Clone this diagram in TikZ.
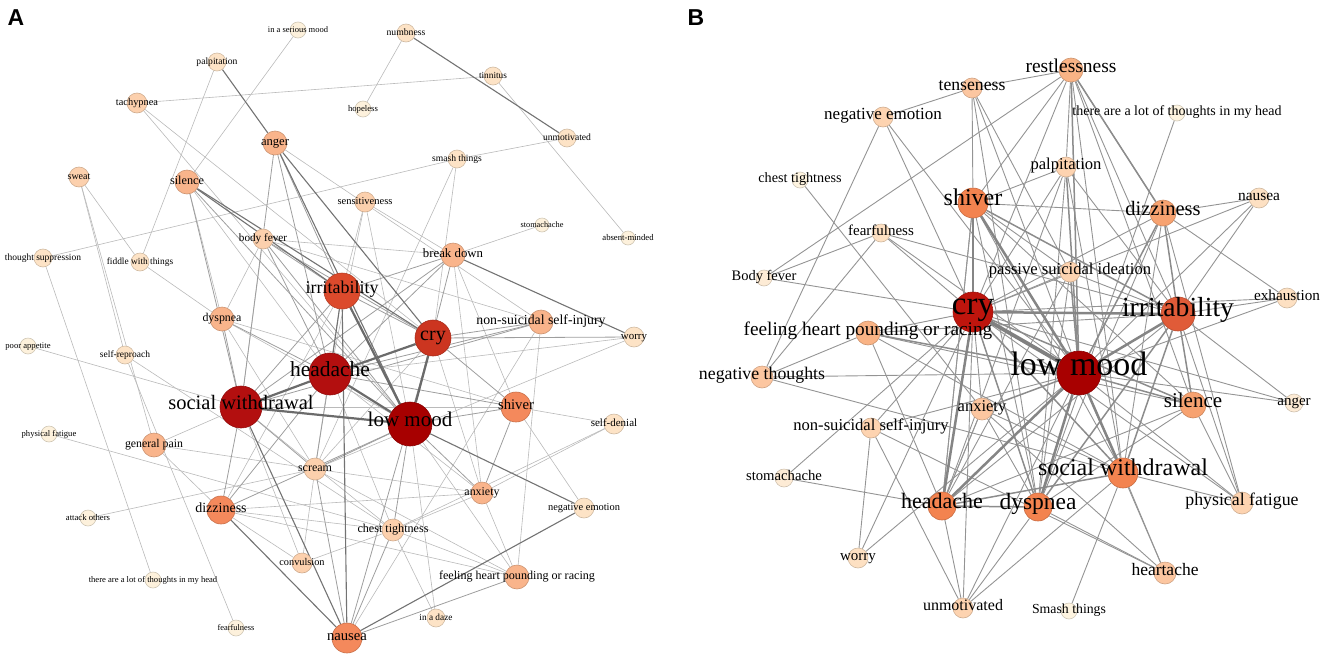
\documentclass[tikz,border=0pt]{standalone}
\usepackage{fontspec}
\setmainfont{Liberation Serif}
\newfontfamily\panelfont{Liberation Sans}
\pgfdeclarelayer{bg}
\pgfdeclarelayer{fg}
\pgfsetlayers{bg,main,fg}
\definecolor{cA1}{HTML}{FDF1DC}
\definecolor{cA2}{HTML}{FDE3C6}
\definecolor{cA3}{HTML}{FCD0AD}
\definecolor{cA4}{HTML}{F9B48B}
\definecolor{cA5}{HTML}{F4895C}
\definecolor{cA6}{HTML}{DC4A2C}
\definecolor{cA7}{HTML}{CC3520}
\definecolor{cA8}{HTML}{B30F0F}
\definecolor{cA9}{HTML}{A70000}
\definecolor{cB1}{HTML}{FEF4E0}
\definecolor{cB2}{HTML}{FDEBD5}
\definecolor{cB3}{HTML}{FDE0C2}
\definecolor{cB4}{HTML}{FDD3B0}
\definecolor{cB5}{HTML}{FCC6A0}
\definecolor{cB6}{HTML}{F9B385}
\definecolor{cB7}{HTML}{F7A270}
\definecolor{cB8}{HTML}{F3834F}
\definecolor{cB9}{HTML}{E05B38}
\definecolor{cB10}{HTML}{BE150D}
\definecolor{cB11}{HTML}{A80000}
\tikzset{
  nc/.style={circle, inner sep=0pt, line width=0.6pt},
  lbl/.style={inner sep=0pt, text height=0.68em, text depth=0.18em},
  ea/.style={line width=0.6pt, draw=black!27},
  eb/.style={line width=0.8pt, draw=black!38},
  ec/.style={line width=1.1pt, draw=black!55},
  ed/.style={line width=2.2pt, draw=black!58},
  ba/.style={line width=0.9pt, draw=black!42},
  bb/.style={line width=1.5pt, draw=black!45},
  bc/.style={line width=2.5pt, draw=black!48},
  bd/.style={line width=3.8pt, draw=black!50},
}
\newcommand{\nd}[7]{%
  \node[nc, fill=#5, draw=#5!82!black, minimum size=2*#4pt] (#1) at (#2,#3) {};
  \begin{pgfonlayer}{fg}\node[lbl, font=\fontsize{#6}{#6}\selectfont] (#1t) at (#2,#3) {#7};\end{pgfonlayer}}
\begin{document}
\begin{tikzpicture}[x=1pt,y=-1pt]
\useasboundingbox (0,0) rectangle (1325,659);
\node[font=\panelfont\fontsize{23}{23}\selectfont\bfseries] (LA) at (16,18) {A};
\node[font=\panelfont\fontsize{23}{23}\selectfont\bfseries] (LB) at (696,18) {B};
% ---------------- Panel A nodes
\nd{aSer}{298}{30}{8}{cA1}{8.5}{in a serious mood}
\nd{aNum}{406}{33}{9}{cA2}{9.7}{numbness}
\nd{aPal}{217}{62}{9}{cA2}{9.6}{palpitation}
\nd{aTin}{493}{76}{9}{cA2}{9.3}{tinnitus}
\nd{aHop}{363}{109}{8}{cA1}{8.7}{hopeless}
\nd{aTac}{137}{103}{10}{cA3}{10.4}{tachypnea}
\nd{aUnm}{567}{138}{9}{cA2}{9.6}{unmotivated}
\nd{aSma}{457}{159}{9}{cA2}{9.6}{smash things}
\nd{aAng}{275}{143}{12}{cA4}{12.6}{anger}
\nd{aSwe}{79}{177}{10}{cA3}{10}{sweat}
\nd{aSil}{187}{182}{12}{cA4}{12.2}{silence}
\nd{aSen}{365}{202}{10}{cA3}{10.5}{sensitiveness}
\nd{aSto}{542}{225}{7}{cA1}{8.3}{stomachache}
\nd{aAbs}{628}{238}{7}{cA1}{8.7}{absent-minded}
\nd{aBre}{453}{255}{12}{cA4}{12.8}{break down}
\nd{aTho}{43}{258}{9}{cA2}{9.5}{thought suppression}
\nd{aFid}{140}{262}{9}{cA2}{9.4}{fiddle with things}
\nd{aBod}{263}{239}{10}{cA3}{11.2}{body fever}
\nd{aIrr}{342}{291}{18}{cA6}{18}{irritability}
\nd{aDys}{222}{319}{12}{cA4}{11.9}{dyspnea}
\nd{aNon}{541}{322}{12}{cA4}{13.8}{non-suicidal self-injury}
\nd{aCry}{433}{338}{18}{cA7}{20}{cry}
\nd{aWor}{634}{337}{10}{cA2}{10.9}{worry}
\nd{aPoo}{28}{346}{8}{cA1}{8.6}{poor appetite}
\nd{aSel}{125}{355}{9}{cA2}{9.5}{self-reproach}
\nd{aHea}{330}{374}{21}{cA8}{21.5}{headache}
\nd{aSoc}{241}{407}{21}{cA8}{20.5}{social withdrawal}
\nd{aLow}{410}{424}{22}{cA9}{21}{low mood}
\nd{aShi}{516}{407}{15}{cA5}{14.7}{shiver}
\nd{aPhy}{49}{434}{8}{cA1}{8.6}{physical fatigue}
\nd{aGen}{154}{445}{12}{cA4}{11.8}{general pain}
\nd{aDen}{614}{424}{10}{cA2}{11}{self-denial}
\nd{aScr}{315}{469}{11}{cA3}{12}{scream}
\nd{aAnx}{482}{493}{11}{cA4}{11.9}{anxiety}
\nd{aDiz}{221}{510}{14}{cA5}{14}{dizziness}
\nd{aNeg}{584}{508}{10}{cA2}{10.4}{negative emotion}
\nd{aChe}{393}{530}{11}{cA3}{12.1}{chest tightness}
\nd{aAtt}{88}{518}{8}{cA1}{8.7}{attack others}
\nd{aCon}{302}{563}{10}{cA3}{10.3}{convulsion}
\nd{aFee}{517}{577}{12}{cA4}{12.1}{feeling heart pounding or racing}
\nd{aThi}{153}{580}{8}{cA1}{8.6}{there are a lot of thoughts in my head}
\nd{aDaz}{436}{618}{9}{cA2}{9.3}{in a daze}
\nd{aFea}{236}{628}{8}{cA1}{8.4}{fearfulness}
\nd{aNau}{347}{638}{15}{cA5}{14.7}{nausea}
% ---------------- Panel B nodes
\nd{bTen}{972}{88}{10}{cB5}{17.7}{tenseness}
\nd{bRes}{1071}{70}{12}{cB6}{19.5}{restlessness}
\nd{bNeg}{883}{117}{10}{cB4}{17}{negative emotion}
\nd{bThi}{1177}{113}{8}{cB1}{14}{there are a lot of thoughts in my head}
\nd{bChe}{800}{180}{8}{cB1}{14.2}{chest tightness}
\nd{bPal}{1066}{167}{10}{cB4}{16.6}{palpitation}
\nd{bShi}{973}{203}{15}{cB8}{24}{shiver}
\nd{bNau}{1259}{198}{10}{cB3}{15.4}{nausea}
\nd{bDiz}{1163}{213}{13}{cB7}{20.5}{dizziness}
\nd{bFea}{881}{233}{9}{cB3}{15}{fearfulness}
\nd{bPas}{1070}{272}{10}{cB4}{16.6}{passive suicidal ideation}
\nd{bBod}{764}{278}{8}{cB2}{14.5}{Body fever}
\nd{bExh}{1287}{298}{10}{cB3}{15.2}{exhaustion}
\nd{bCry}{973}{312}{20}{cB10}{33}{cry}
\nd{bIrr}{1178}{314}{17}{cB9}{27.6}{irritability}
\nd{bFee}{868}{333}{12}{cB6}{19.3}{feeling heart pounding or racing}
\nd{bLow}{1079}{373}{22}{cB11}{34}{low mood}
\nd{bNth}{762}{377}{11}{cB5}{17.8}{negative thoughts}
\nd{bAng}{1294}{403}{9}{cB2}{15}{anger}
\nd{bSil}{1193}{405}{13}{cB7}{21}{silence}
\nd{bAnx}{982}{409}{11}{cB5}{16.5}{anxiety}
\nd{bNon}{871}{428}{10}{cB4}{16.6}{non-suicidal self-injury}
\nd{bSoc}{1123}{473}{15}{cB8}{24}{social withdrawal}
\nd{bSto}{784}{478}{9}{cB2}{14.7}{stomachache}
\nd{bPhy}{1242}{503}{11}{cB4}{17.8}{physical fatigue}
\nd{bHea}{942}{506}{14}{cB8}{22}{headache}
\nd{bDys}{1038}{507}{14}{cB8}{23.5}{dyspnea}
\nd{bWor}{858}{558}{10}{cB3}{15}{worry}
\nd{bHrt}{1165}{573}{11}{cB5}{17.5}{heartache}
\nd{bUnm}{963}{608}{10}{cB4}{16}{unmotivated}
\nd{bSma}{1069}{611}{8}{cB1}{13.8}{Smash things}
% ---------------- edges
\begin{pgfonlayer}{bg}
\foreach \p/\q in {aSer/aSil, aNum/aHop, aTin/aTac, aTin/aAbs, aUnm/aSma, aSma/aTho, aSma/aCry, aSma/aScr, aTac/aLow, aTac/aCry, aPal/aFid, aSwe/aSel, aSwe/aGen, aSwe/aFid, aSil/aDys, aSen/aIrr, aSen/aHea, aSen/aLow, aSen/aBre, aSto/aBre, aTho/aThi, aFid/aDys, aBod/aNon, aBod/aBre, aBod/aSoc, aDys/aScr, aDys/aShi, aDys/aLow, aBod/aDys, aNon/aFee, aNon/aNau, aWor/aHea, aWor/aScr, aPoo/aSoc, aSel/aChe, aSel/aFea, aPhy/aChe, aGen/aDiz, aGen/aScr, aDen/aShi, aDen/aChe, aDen/aAnx, aScr/aAtt, aScr/aCon, aScr/aAnx, aAnx/aFee, aAnx/aChe, aDiz/aChe, aDiz/aCon, aDiz/aFee, aChe/aDaz, aChe/aFee, aLow/aDaz, aFee/aScr, aNeg/aShi, aCon/aChe, aHea/aChe, aHea/aAnx, aSoc/aChe, aSoc/aCon, aIrr/aScr, aCry/aScr, aBre/aAnx, aBre/aShi, aSoc/aShi, aDiz/aAnx, aAng/aNon, aIrr/aDiz, aLow/aFee, aCry/aAnx, aSil/aHea, aSoc/aGen}
  \draw[ea] (\p) -- (\q);
\foreach \p/\q in {aAng/aIrr, aAng/aHea, aAng/aSoc, aBod/aIrr, aBod/aCry, aBod/aLow, aBod/aHea, aBre/aIrr, aBre/aHea, aBre/aSoc, aBre/aLow, aDys/aHea, aDys/aSoc, aNon/aCry, aNon/aHea, aNon/aSoc, aCry/aWor, aCry/aShi, aIrr/aSoc, aIrr/aCry, aHea/aShi, aHea/aDiz, aHea/aScr, aSoc/aDiz, aSoc/aScr, aLow/aShi, aLow/aAnx, aLow/aScr, aLow/aChe, aLow/aDiz, aScr/aNau, aShi/aAnx, aChe/aNau, aFee/aNau, aCry/aNau, aSil/aLow, aSil/aSoc}
  \draw[eb] (\p) -- (\q);
\foreach \p/\q in {aNum/aUnm, aPal/aAng, aAng/aCry, aAng/aLow, aSil/aIrr, aSil/aCry, aBre/aWor, aLow/aNeg, aNeg/aNau, aDiz/aNau, aSoc/aNau, aIrr/aNau, aIrr/aHea}
  \draw[ec] (\p) -- (\q);
\foreach \p/\q in {aHea/aLow, aSoc/aLow, aCry/aLow, aHea/aCry, aSoc/aHea, aIrr/aLow}
  \draw[ed] (\p) -- (\q);
% B
\foreach \p/\q in {bTen/bNeg, bTen/bRes, bTen/bShi, bTen/bLow, bTen/bDys, bTen/bPas, bRes/bBod, bNeg/bNth, bNeg/bCry, bNeg/bLow, bChe/bAnx, bFea/bBod, bFea/bNth, bFea/bCry, bFea/bLow, bFea/bIrr, bBod/bCry, bFee/bCry, bFee/bNth, bFee/bIrr, bFee/bSil, bFee/bSoc, bNth/bLow, bNth/bSoc, bNon/bCry, bNon/bLow, bNon/bHrt, bSto/bHea, bSto/bCry, bWor/bNon, bWor/bCry, bWor/bLow, bHea/bIrr, bHea/bShi, bHea/bSil, bHea/bAnx, bHea/bPas, bHea/bUnm, bUnm/bNon, bUnm/bLow, bUnm/bCry, bUnm/bDys, bUnm/bSoc, bSma/bSoc, bHrt/bSoc, bHrt/bDys, bHrt/bLow, bHrt/bAnx, bPhy/bSoc, bPhy/bLow, bPhy/bIrr, bPhy/bDiz, bPhy/bSil, bPhy/bCry, bSil/bShi, bSil/bDys, bAng/bIrr, bAng/bLow, bAng/bCry, bExh/bIrr, bExh/bDiz, bExh/bCry, bExh/bLow, bIrr/bRes, bIrr/bPas, bIrr/bPal, bNau/bDiz, bNau/bIrr, bNau/bCry, bNau/bLow, bDiz/bCry, bDiz/bShi, bDiz/bRes, bThi/bDys, bDiz/bSoc, bDiz/bDys, bRes/bShi, bRes/bCry, bRes/bPal, bRes/bSil, bRes/bSoc, bPal/bCry, bPal/bDys, bPal/bSoc, bPal/bHea, bShi/bDys, bShi/bHea, bShi/bSoc, bShi/bPal, bCry/bAnx, bCry/bPas, bPas/bDys, bPas/bShi, bAnx/bSoc, bAnx/bDys, bAnx/bHea, bFee/bHea}
  \draw[ba] (\p) -- (\q);
\foreach \p/\q in {bIrr/bShi, bIrr/bDiz, bIrr/bSoc, bIrr/bDys, bSil/bLow, bSil/bIrr, bSil/bCry, bRes/bLow, bRes/bDiz, bPal/bLow, bDiz/bLow, bPas/bLow, bAnx/bLow, bCry/bDys, bCry/bSoc, bFee/bLow, bHea/bDys, bHea/bSoc}
  \draw[bb] (\p) -- (\q);
\foreach \p/\q in {bCry/bIrr, bShi/bLow, bShi/bCry, bCry/bHea, bLow/bSoc, bLow/bDys, bLow/bHea, bIrr/bLow}
  \draw[bc] (\p) -- (\q);
\draw[bd] (bCry) -- (bLow);
\end{pgfonlayer}
\end{tikzpicture}
\end{document}
